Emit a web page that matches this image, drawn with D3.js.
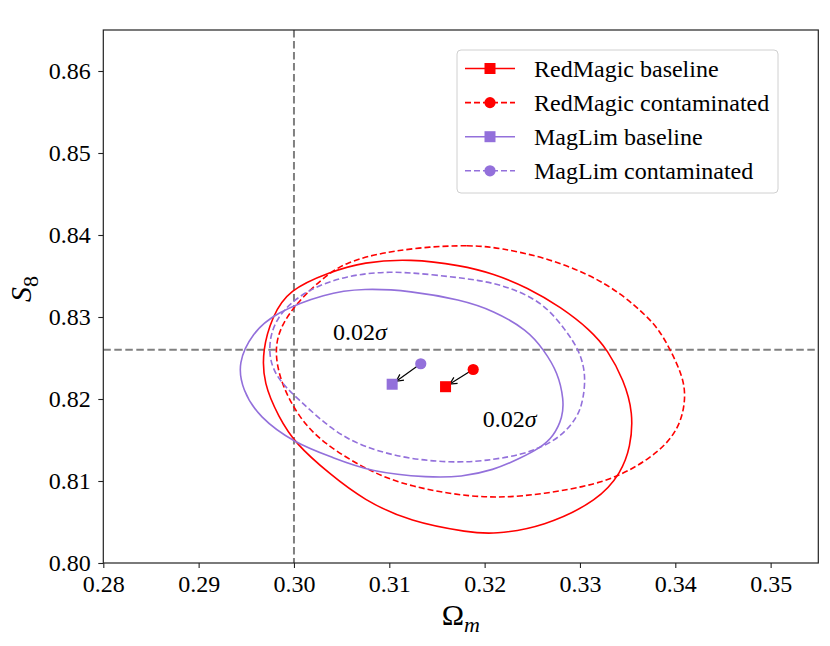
<!DOCTYPE html>
<html>
<head>
<meta charset="utf-8">
<script src="https://cdn.jsdelivr.net/npm/d3@7"></script>
<style>
  body { margin: 0; background: #fff; }
  svg text { font-family: "Liberation Serif", "DejaVu Serif", serif; fill: #000; }
</style>
</head>
<body>
<div id="chart"></div>
<script>
// axis ticks
var xTicks = [0.28, 0.29, 0.30, 0.31, 0.32, 0.33, 0.34, 0.35];
var yTicks = [0.80, 0.81, 0.82, 0.83, 0.84, 0.85, 0.86];

// fiducial lines
var fiducialOm = 0.30;
var fiducialS8 = 0.826;

// series (legend order)
var seriesNames = ["RedMagic baseline", "RedMagic contaminated", "MagLim baseline", "MagLim contaminated"];
var seriesColors = ["red", "red", "mediumpurple", "mediumpurple"];
var seriesDashed = [false, true, false, true];
var seriesMarker = ["square", "circle", "square", "circle"];

// best fit points
var bestOm = [0.3159, 0.3188, 0.3103, 0.3133];
var bestS8 = [0.8215, 0.8236, 0.8218, 0.8243];

// contour points, [Omega_m, S8]
var redBaseline = [
  [0.3073, 0.8367], [0.3122, 0.8371], [0.3175, 0.8363], [0.3209, 0.8353], [0.3245, 0.8336],
  [0.3280, 0.8312], [0.3311, 0.8284], [0.3329, 0.8260], [0.3346, 0.8223], [0.3356, 0.8183],
  [0.3353, 0.8141], [0.3343, 0.8110], [0.3320, 0.8077], [0.3262, 0.8044], [0.3209, 0.8035],
  [0.3185, 0.8037], [0.3122, 0.8050], [0.3073, 0.8077], [0.3038, 0.8108], [0.3001, 0.8146],
  [0.2984, 0.8178], [0.2968, 0.8219], [0.2967, 0.8260], [0.2977, 0.8300], [0.2994, 0.8333],
  [0.3038, 0.8355]
];
var redContam = [
  [0.3130, 0.8385], [0.3185, 0.8388], [0.3217, 0.8384], [0.3262, 0.8373], [0.3308, 0.8353],
  [0.3343, 0.8329], [0.3371, 0.8300], [0.3383, 0.8284], [0.3395, 0.8260], [0.3408, 0.8227],
  [0.3411, 0.8202], [0.3406, 0.8171], [0.3392, 0.8146], [0.3371, 0.8126], [0.3343, 0.8107],
  [0.3308, 0.8093], [0.3238, 0.8080], [0.3185, 0.8080], [0.3122, 0.8093], [0.3080, 0.8111],
  [0.3030, 0.8146], [0.3005, 0.8178], [0.2988, 0.8215], [0.2980, 0.8251], [0.2983, 0.8284],
  [0.3005, 0.8321], [0.3038, 0.8355], [0.3056, 0.8366], [0.3082, 0.8376]
];
var magBaseline = [
  [0.3073, 0.8335], [0.3122, 0.8332], [0.3175, 0.8321], [0.3209, 0.8308], [0.3245, 0.8284],
  [0.3262, 0.8260], [0.3277, 0.8232], [0.3283, 0.8199], [0.3282, 0.8178], [0.3272, 0.8154],
  [0.3259, 0.8141], [0.3238, 0.8128], [0.3209, 0.8113], [0.3175, 0.8105], [0.3143, 0.8104],
  [0.3080, 0.8111], [0.3040, 0.8129], [0.3001, 0.8146], [0.2963, 0.8178], [0.2946, 0.8211],
  [0.2941, 0.8244], [0.2956, 0.8280], [0.2980, 0.8305], [0.3033, 0.8329]
];
var magContam = [
  [0.3101, 0.8356], [0.3143, 0.8352], [0.3196, 0.8345], [0.3227, 0.8336], [0.3262, 0.8317],
  [0.3285, 0.8284], [0.3299, 0.8260], [0.3306, 0.8232], [0.3304, 0.8202], [0.3298, 0.8178],
  [0.3280, 0.8154], [0.3259, 0.8141], [0.3238, 0.8132], [0.3209, 0.8126], [0.3175, 0.8122],
  [0.3122, 0.8126], [0.3073, 0.8141], [0.3040, 0.8162], [0.3005, 0.8199], [0.2980, 0.8227],
  [0.2972, 0.8260], [0.2980, 0.8300], [0.3012, 0.8333], [0.3056, 0.8351]
];
var contours = [redBaseline, redContam, magBaseline, magContam];

// shift annotations
var shiftLabels = ["0.02", "0.02"];
var shiftLabelOm = [0.3041, 0.3198];
var shiftLabelS8 = [0.8272, 0.8166];


var W = 830, H = 646;
var margin = {top: 30, right: 11.7, bottom: 83, left: 103.3};
var width = W - margin.left - margin.right,
    height = H - margin.top - margin.bottom;

var svg = d3.select("#chart").append("svg")
  .attr("width", W)
  .attr("height", H);

var g = svg.append("g")
  .attr("transform", "translate(" + margin.left + "," + margin.top + ")");

var x = d3.scaleLinear().domain([0.28, 0.355]).range([0, width]);
var y = d3.scaleLinear().domain([0.80, 0.865]).range([height, 0]);

svg.append("defs").append("clipPath").attr("id", "clip")
  .append("rect").attr("width", width).attr("height", height);

var plot = g.append("g").attr("clip-path", "url(#clip)");

// fiducial dashed lines
plot.append("line")
  .attr("x1", x(fiducialOm)).attr("x2", x(fiducialOm))
  .attr("y1", 0).attr("y2", height)
  .attr("stroke", "#808080").attr("stroke-width", 2).attr("stroke-dasharray", "7.5,3.5");
plot.append("line")
  .attr("x1", 0).attr("x2", width)
  .attr("y1", y(fiducialS8)).attr("y2", y(fiducialS8))
  .attr("stroke", "#808080").attr("stroke-width", 2).attr("stroke-dasharray", "7.5,3.5");

// contours, smoothed through the read points
var line = d3.line()
  .x(function(d) { return x(d[0]); })
  .y(function(d) { return y(d[1]); })
  .curve(d3.curveBasisClosed);

plot.selectAll(".contour")
  .data(contours)
  .enter().append("path")
  .attr("class", "contour")
  .attr("d", line)
  .attr("fill", "none")
  .attr("stroke", function(d, i) { return seriesColors[i]; })
  .attr("stroke-width", 1.6)
  .attr("stroke-dasharray", function(d, i) { return seriesDashed[i] ? "6,3" : null; });

// arrows contaminated -> baseline
svg.select("defs").append("marker")
  .attr("id", "arrowhead")
  .attr("viewBox", "-8 -5 10 10")
  .attr("refX", 0).attr("refY", 0)
  .attr("markerWidth", 10).attr("markerHeight", 10)
  .attr("markerUnits", "userSpaceOnUse")
  .attr("orient", "auto")
  .append("path")
  .attr("d", "M-7,-3.5 L0,0 L-7,3.5")
  .attr("fill", "none").attr("stroke", "#000").attr("stroke-width", 1.2);

[[1, 0], [3, 2]].forEach(function(p) {
  var x0 = x(bestOm[p[0]]), y0 = y(bestS8[p[0]]);
  var x1 = x(bestOm[p[1]]), y1 = y(bestS8[p[1]]);
  var dx = x1 - x0, dy = y1 - y0, len = Math.sqrt(dx * dx + dy * dy);
  var s0 = 4, s1 = 5;
  plot.append("line")
    .attr("x1", x0 + dx / len * s0).attr("y1", y0 + dy / len * s0)
    .attr("x2", x1 - dx / len * s1).attr("y2", y1 - dy / len * s1)
    .attr("stroke", "#000").attr("stroke-width", 1.2)
    .attr("marker-end", "url(#arrowhead)");
});

// markers
function drawMarker(sel, type, color, cx, cy) {
  if (type == "square") {
    sel.append("rect")
      .attr("x", cx - 5.5).attr("y", cy - 5.5)
      .attr("width", 11).attr("height", 11)
      .attr("fill", color);
  } else {
    sel.append("circle")
      .attr("cx", cx).attr("cy", cy).attr("r", 5.6)
      .attr("fill", color);
  }
}
bestOm.forEach(function(d, i) {
  drawMarker(plot, seriesMarker[i], seriesColors[i], x(bestOm[i]), y(bestS8[i]));
});

// shift labels
shiftLabels.forEach(function(t, i) {
  var txt = g.append("text")
    .attr("x", x(shiftLabelOm[i])).attr("y", y(shiftLabelS8[i]))
    .attr("font-size", 24);
  txt.append("tspan").text(t);
  txt.append("tspan").attr("font-style", "italic").text("σ");
});

// axes
var xAxis = g.append("g")
  .attr("transform", "translate(0," + height + ")")
  .call(d3.axisBottom(x).tickValues(xTicks).tickFormat(d3.format(".2f")).tickSize(5).tickPadding(7));
var yAxis = g.append("g")
  .call(d3.axisLeft(y).tickValues(yTicks).tickFormat(d3.format(".2f")).tickSize(5).tickPadding(7.5));
[xAxis, yAxis].forEach(function(a) {
  a.select(".domain").remove();
  a.selectAll(".tick line").attr("stroke", "#222").attr("stroke-width", 1.1);
  a.selectAll(".tick text")
    .attr("font-size", 24)
    .attr("font-family", "Liberation Serif, serif")
    .attr("fill", "#000");
});

// frame
g.append("rect")
  .attr("width", width).attr("height", height)
  .attr("fill", "none").attr("stroke", "#222").attr("stroke-width", 1.2);

// axis labels
var xl = svg.append("text")
  .attr("x", margin.left + width / 2).attr("y", 625)
  .attr("text-anchor", "middle")
  .attr("font-size", 30);
xl.append("tspan").text("Ω");
xl.append("tspan").attr("font-style", "italic").attr("font-size", 22).attr("dy", 7).text("m");

var yl = svg.append("text")
  .attr("transform", "translate(31,289) rotate(-90)")
  .attr("text-anchor", "middle")
  .attr("font-size", 30);
yl.append("tspan").attr("font-style", "italic").text("S");
yl.append("tspan").attr("font-size", 22).attr("dy", 7).text("8");

// legend
var legend = svg.append("g").attr("transform", "translate(457,50)");
legend.append("rect")
  .attr("width", 321).attr("height", 143)
  .attr("rx", 4).attr("ry", 4)
  .attr("fill", "#fff").attr("fill-opacity", 0.8)
  .attr("stroke", "#d0d0d0").attr("stroke-width", 1);

seriesNames.forEach(function(name, i) {
  var ry = 18.5 + i * 34.1;
  var row = legend.append("g");
  row.append("line")
    .attr("x1", 8).attr("x2", 58)
    .attr("y1", ry).attr("y2", ry)
    .attr("stroke", seriesColors[i]).attr("stroke-width", 1.6)
    .attr("stroke-dasharray", seriesDashed[i] ? "6,3" : null);
  drawMarker(row, seriesMarker[i], seriesColors[i], 33, ry);
  row.append("text")
    .attr("x", 77).attr("y", ry + 8)
    .attr("font-size", 24)
    .text(name);
});
</script>
</body>
</html>
